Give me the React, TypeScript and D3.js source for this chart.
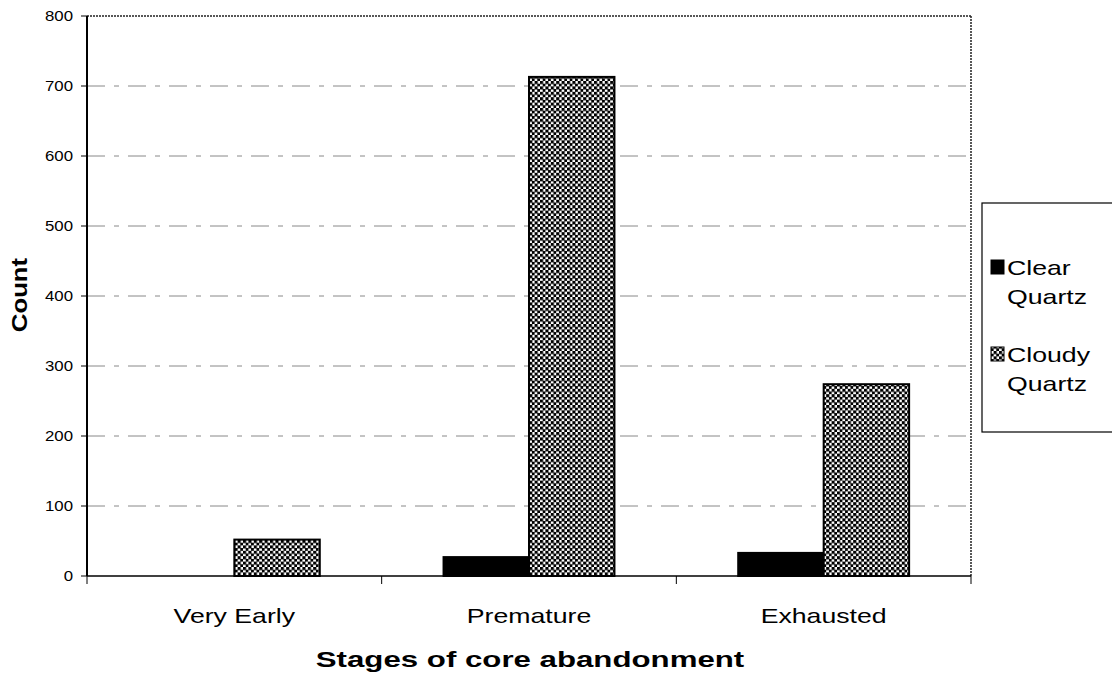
import React from "react";
import * as d3 from "d3";

const categories = ["Very Early", "Premature", "Exhausted"];
const seriesNames = ["Clear Quartz", "Cloudy Quartz"];
const clearQuartz = [0, 27, 33];
const cloudyQuartz = [52, 713, 274];
const yTicks = [0, 100, 200, 300, 400, 500, 600, 700, 800];

const W = 1112, H = 674;
const m = { left: 87, right: 971, top: 16, bottom: 576 };
const font = "'Liberation Sans', Arial, sans-serif";

function T({ x, y, sx = 1.27, size = 21, anchor = "start", bold = false, rotate = 0, children }: any) {
  return (
    <text
      transform={`translate(${x},${y}) rotate(${rotate}) scale(${sx},1)`}
      textAnchor={anchor}
      fontSize={size}
      fontWeight={bold ? "bold" : "normal"}
      fill="#000"
    >
      {children}
    </text>
  );
}

export default function App() {
  const x = d3.scaleBand<string>().domain(categories).range([m.left, m.right]).paddingInner(0).paddingOuter(0);
  const y = d3.scaleLinear().domain([0, 800]).range([m.bottom, m.top]);
  const bw = x.bandwidth();
  const barW = bw * 0.29;
  const series = [clearQuartz, cloudyQuartz];

  return (
    <svg width={W} height={H} style={{ position: "absolute", left: 0, top: 0, background: "#fff" }} fontFamily={font}>
      <defs>
        <pattern id="check" width={5.4} height={5.4} patternUnits="userSpaceOnUse">
          <rect width={5.4} height={5.4} fill="#fff" />
          <rect x={0} y={0} width={3.1} height={3.1} fill="#000" />
          <rect x={2.7} y={2.7} width={3.1} height={3.1} fill="#000" />
        </pattern>
      </defs>
      {/* gridlines */}
      {yTicks.filter(t => t > 0 && t < 800).map(t => (
        <line key={t} x1={m.left} x2={m.right} y1={y(t)} y2={y(t)} stroke="#888" strokeWidth={1} strokeDasharray="18,9,5,9" />
      ))}
      {/* top & right dotted border */}
      <line x1={m.left} x2={m.right} y1={m.top} y2={m.top} stroke="#222" strokeWidth={1.5} strokeDasharray="2,1" />
      <line x1={m.right} x2={m.right} y1={m.top} y2={m.bottom} stroke="#222" strokeWidth={1.5} strokeDasharray="2,1" />
      {/* bars */}
      {categories.map((c, i) => {
        const cx = (x(c) as number) + bw / 2;
        return series.map((s, j) => {
          const v = s[i];
          if (v <= 0) return null;
          const x0 = cx - barW + j * barW;
          return (
            <rect key={c + j} x={x0} y={y(v)} width={barW} height={y(0) - y(v)}
              fill={j === 0 ? "#000" : "url(#check)"} stroke="#000" strokeWidth={2} />
          );
        });
      })}
      {/* axes */}
      <line x1={m.left} x2={m.left} y1={m.top} y2={m.bottom} stroke="#000" strokeWidth={2} />
      <line x1={m.left} x2={m.right} y1={m.bottom} y2={m.bottom} stroke="#000" strokeWidth={1.5} />
      {yTicks.map(t => (
        <g key={t}>
          <line x1={m.left - 6} x2={m.left} y1={y(t)} y2={y(t)} stroke="#000" strokeWidth={1} />
          <T x={73} y={y(t) + 5} size={14} sx={1.2} anchor="end">{t}</T>
        </g>
      ))}
      {[...categories.map(c => x(c) as number), m.right].map((xx, i) => (
        <line key={i} x1={xx} x2={xx} y1={m.bottom} y2={m.bottom + 8} stroke="#000" strokeWidth={1} />
      ))}
      {categories.map(c => (
        <T key={c} x={(x(c) as number) + bw / 2} y={623} anchor="middle">{c}</T>
      ))}
      <T x={530} y={667} size={22} sx={1.42} anchor="middle" bold>Stages of core abandonment</T>
      <T x={27} y={295} rotate={-90} size={22} sx={1.17} anchor="middle" bold>Count</T>
      {/* legend */}
      <rect x={982} y={203} width={140} height={229} fill="#fff" stroke="#000" strokeWidth={1.2} />
      {seriesNames.map((n, j) => {
        const [a, b] = n.split(" ");
        const ty = 275 + j * 87;
        return (
          <g key={n}>
            <rect x={991} y={ty - 15} width={13} height={14} fill={j === 0 ? "#000" : "url(#check)"} stroke="#000" strokeWidth={1} />
            <T x={1007} y={ty}>{a}</T>
            <T x={1007} y={ty + 29}>{b}</T>
          </g>
        );
      })}
    </svg>
  );
}
